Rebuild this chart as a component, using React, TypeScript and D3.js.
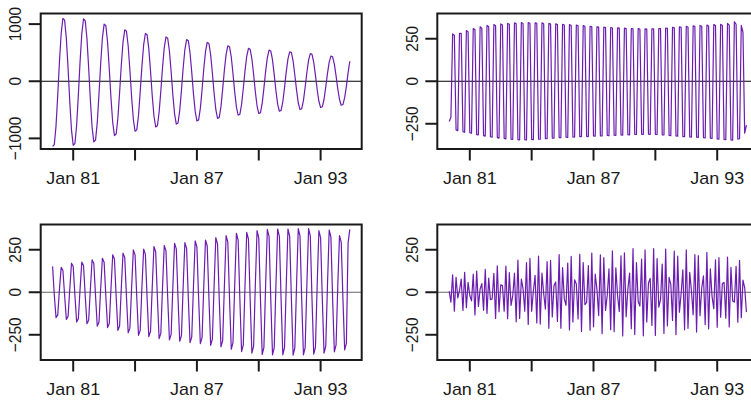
import React from "react";
import * as d3 from "d3";

// monthly components, Jan 1980 .. Jun 1994 (174 months)
const startYear = 1980;
const monthsPerYear = 12;

// 12-month component
const annualComp = [
  -1140, -1108, -780, -243, 348, 836, 1100, 1069, 752, 234, -354, -851,
  -1120, -1089, -766, -239, 344, 828, 1090, 1059, 746, 232, -335, -806,
  -1060, -1030, -725, -226, 316, 760, 1000, 972, 684, 213, -300, -722,
  -950, -923, -650, -202, 284, 684, 900, 875, 616, 192, -277, -665,
  -875, -851, -599, -186, 264, 635, 835, 812, 571, 178, -253, -608,
  -800, -778, -547, -170, 245, 589, 775, 753, 530, 165, -237, -570,
  -750, -729, -513, -160, 231, 555, 730, 710, 499, 155, -220, -528,
  -695, -676, -475, -148, 215, 517, 680, 661, 465, 145, -205, -494,
  -650, -632, -445, -138, 196, 471, 620, 603, 424, 132, -188, -452,
  -595, -578, -407, -127, 182, 437, 575, 559, 393, 122, -179, -429,
  -565, -549, -386, -120, 172, 414, 545, 530, 373, 116, -166, -399,
  -525, -510, -359, -112, 163, 391, 515, 501, 352, 110, -156, -376,
  -495, -481, -339, -105, 153, 369, 485, 471, 332, 103, -145, -350,
  -460, -447, -315, -98, 139, 334, 440, 428, 301, 94, -133, -319,
  -420, -408, -287, -89, 150, 350,
];

// 4-month component
const fourMonthComp = [
  -237, -212, 278, 270, -286, -290, 282, 282, -296, -300, 298, 290,
  -302, -306, 310, 303, -314, -316, 320, 312, -320, -323, 328, 320,
  -326, -329, 333, 326, -331, -334, 337, 331, -336, -339, 340, 335,
  -340, -342, 343, 338, -343, -345, 345, 340, -344, -345, 345, 341,
  -342, -343, 344, 340, -340, -341, 343, 338, -337, -338, 340, 336,
  -334, -335, 338, 333, -331, -332, 335, 331, -329, -330, 333, 328,
  -327, -328, 330, 326, -325, -326, 327, 323, -324, -325, 323, 320,
  -322, -323, 320, 318, -321, -322, 318, 315, -319, -320, 316, 313,
  -317, -318, 314, 312, -316, -317, 312, 310, -314, -315, 310, 308,
  -312, -313, 309, 307, -311, -312, 308, 307, -311, -312, 308, 308,
  -312, -313, 310, 309, -315, -316, 313, 311, -319, -320, 317, 314,
  -322, -323, 320, 317, -325, -326, 323, 319, -327, -328, 326, 321,
  -329, -330, 328, 323, -332, -333, 330, 325, -335, -336, 333, 327,
  -339, -340, 335, 328, -342, -343, 340, 330, -345, -346, 350, 335,
  -340, -338, 328, 288, -305, -258,
];

// 6-month component
const sixMonthComp = [
  152, -17, -150, -133, 17, 146, 129, -18, -160, -142, 18, 171,
  151, -20, -175, -155, 20, 177, 157, -21, -185, -164, 21, 191,
  169, -22, -199, -176, 23, 200, 177, -24, -208, -184, 24, 220,
  195, -25, -224, -198, 26, 230, 204, -27, -238, -211, 27, 249,
  220, -29, -253, -224, 29, 253, 224, -30, -261, -231, 30, 269,
  238, -31, -273, -242, 31, 275, 243, -32, -280, -248, 32, 288,
  255, -33, -288, -255, 33, 292, 258, -34, -296, -262, 34, 302,
  267, -35, -302, -267, 35, 307, 272, -36, -312, -276, 36, 321,
  284, -37, -321, -284, 37, 333, 295, -39, -335, -296, 39, 347,
  307, -40, -349, -309, 40, 352, 312, -41, -358, -317, 41, 362,
  320, -42, -366, -324, 42, 370, 327, -43, -368, -326, 42, 372,
  329, -43, -368, -326, 42, 372, 329, -43, -370, -327, 43, 374,
  331, -43, -368, -326, 42, 374, 331, -42, -364, -322, 42, 362,
  320, -41, -358, -317, 41, 366, 324, -40, -350, -310, 40, 333,
  295, -39, -339, -300, 290, 370,
];

// short-period remainder
const shortComp = [
  6, -58, 103, -111, 88, -33, 10, 78, -107, 117, -91, 58,
  -19, -51, 106, -134, 125, -83, 19, 51, -106, 134, -125, 83,
  -44, -39, 111, -154, 155, -115, 44, 39, -111, 154, -155, 115,
  -77, -20, 112, -174, 189, -154, 77, 20, -112, 174, -189, 200,
  -112, 7, 99, -180, 212, -187, 112, -7, -99, 180, -212, 187,
  -145, 39, 60, -172, 222, -211, 145, -39, -77, 172, -222, 211,
  -175, 73, 49, -157, 223, -230, 175, -73, -60, 157, -223, 230,
  -203, 107, 17, -137, 220, -244, 203, -107, -17, 137, -220, 244,
  -232, 144, -18, -113, 214, -257, 232, -144, 18, 113, -214, 257,
  -249, 175, -54, -81, 195, -256, 249, -175, 54, 81, -195, 256,
  -254, 198, -88, -45, 166, -242, 254, -198, 88, 45, -166, 242,
  -250, 212, -117, -9, 132, -221, 250, -212, 117, 9, -132, 221,
  -234, 215, -138, 25, 96, -190, 234, -215, 138, -25, -96, 190,
  -206, 204, -147, 51, 58, -152, 206, -204, 147, -51, -58, 152,
  -176, 188, -150, 71, 26, -117,
];

const xTickYears = [1981, 1984, 1987, 1990, 1993];
const xTickLabels = ["Jan 81", "", "Jan 87", "", "Jan 93"];
const yTicksBig = [-1000, 0, 1000];
const yTicksSmall = [-250, 0, 250];
const sharedLimit = 383; // common ylim of panels 2-4

const font = "'Liberation Sans', Arial, Helvetica, sans-serif";
const lineColor = "#6b1daf";
const ink = "#1a1a1a";

const fmt = (v: number) => (v < 0 ? "\u2212" + Math.abs(v) : String(v));

function Panel({ values, lim, yTicks, left, top, zeroColor }: any) {
  const width = 321;
  const height = 135.5;
  const n = values.length;
  const t0 = startYear;
  const t1 = startYear + (n - 1) / monthsPerYear;
  const pad = (t1 - t0) * 0.04;

  const x = d3.scaleLinear().domain([t0 - pad, t1 + pad]).range([left, left + width]);
  const y = d3.scaleLinear().domain([-lim * 1.04, lim * 1.04]).range([top + height, top]);

  const path = d3
    .line<number>()
    .x((d, i) => x(t0 + i / monthsPerYear))
    .y((d) => y(d))(values);

  const bottom = top + height;

  return (
    <g>
      <line x1={left} x2={left + width} y1={y(0)} y2={y(0)} stroke={zeroColor} strokeWidth={1} />
      <path d={path || ""} fill="none" stroke={lineColor} strokeWidth={1.2} strokeLinejoin="round" />

      {xTickYears.map((yr, i) => (
        <g key={"x" + yr}>
          <line x1={x(yr)} x2={x(yr)} y1={bottom} y2={bottom + 11.5} stroke={ink} strokeWidth={2} />
          {xTickLabels[i] && (
            <text
              transform={`translate(${x(yr)},${bottom + 35}) scale(1.12,1)`}
              textAnchor="middle"
              fontSize={16}
              fontFamily={font}
              fill={ink}
            >
              {xTickLabels[i]}
            </text>
          )}
        </g>
      ))}

      {yTicks.map((v: number) => (
        <g key={"y" + v}>
          <line x1={left - 12} x2={left} y1={y(v)} y2={y(v)} stroke={ink} strokeWidth={2} />
          <text
            transform={`translate(${left - 19.5},${y(v)}) scale(1.12,1) rotate(-90)`}
            textAnchor="middle"
            fontSize={15.5}
            fontFamily={font}
            fill={ink}
          >
            {fmt(v)}
          </text>
        </g>
      ))}

      <rect x={left} y={top} width={width} height={height} fill="none" stroke={ink} strokeWidth={2} />
    </g>
  );
}

export default function App() {
  const limTop = d3.max(annualComp, (d) => Math.abs(d)) as number;

  return (
    <svg
      width={751}
      height={401}
      style={{ position: "absolute", left: 0, top: 0, background: "#fff" }}
    >
      <rect width={751} height={401} fill="#fff" />
      <Panel values={annualComp} lim={limTop} yTicks={yTicksBig} left={40.7} top={13.5} zeroColor="#000" />
      <Panel values={fourMonthComp} lim={sharedLimit} yTicks={yTicksSmall} left={437.3} top={13.5} zeroColor="#000" />
      <Panel values={sixMonthComp} lim={sharedLimit} yTicks={yTicksSmall} left={40.7} top={224.5} zeroColor="#666" />
      <Panel values={shortComp} lim={sharedLimit} yTicks={yTicksSmall} left={437.3} top={224.5} zeroColor="#666" />
    </svg>
  );
}
